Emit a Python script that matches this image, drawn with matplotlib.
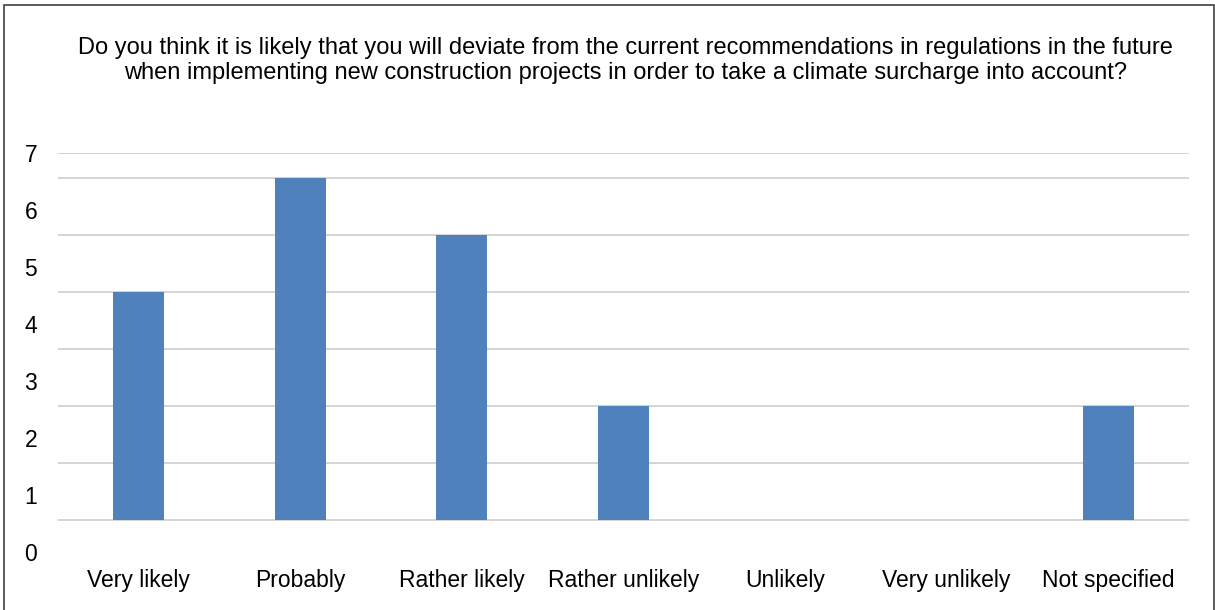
import matplotlib.pyplot as plt
from matplotlib.patches import Rectangle

categories = ["Very likely", "Probably", "Rather likely", "Rather unlikely",
              "Unlikely", "Very unlikely", "Not specified"]
counts = [4, 6, 5, 2, 0, 0, 2]
ytick_values = [0, 1, 2, 3, 4, 5, 6, 7]
title = ("Do you think it is likely that you will deviate from the current recommendations in regulations in the future\n"
         "when implementing new construction projects in order to take a climate surcharge into account?")

plt.rcParams['font.family'] = ['Liberation Sans', 'DejaVu Sans']

fig = plt.figure(figsize=(12.15, 6.1), dpi=100)
# outer chart frame
fig.patches.append(Rectangle((0.003, -0.01), 0.996, 1.002, transform=fig.transFigure,
                             fill=False, edgecolor='#404040', linewidth=1.2))

ax = fig.add_axes([58 / 1215, (610 - 554) / 610, (1189 - 58) / 1215, (554 - 153) / 610])
ax.set_xlim(-0.5, len(categories) - 0.5)
ax.set_ylim(-0.6, 6.44)

# gridlines
for g in range(0, 7):
    ax.axhline(g, color='#d4d4d4', linewidth=1.4, zorder=0)
ax.axhline(6.44, color='#d4d4d4', linewidth=1.4, zorder=0)

ax.bar(range(len(categories)), counts, width=0.315, color='#4f81bd', zorder=2)

ax.set_xticks(range(len(categories)))
ax.set_xticklabels(categories, fontsize=16.5)
ax.set_yticks([v - 0.56 for v in ytick_values])
ax.set_yticklabels([str(v) for v in ytick_values], fontsize=16.5)
ax.tick_params(axis='x', length=0, pad=11)
ax.tick_params(axis='y', length=0, pad=15)
for s in ax.spines.values():
    s.set_visible(False)

fig.text(0.515, 0.901, title, ha='center', va='center', fontsize=17, linespacing=1.22)

fig.savefig('out.png', dpi=100)
